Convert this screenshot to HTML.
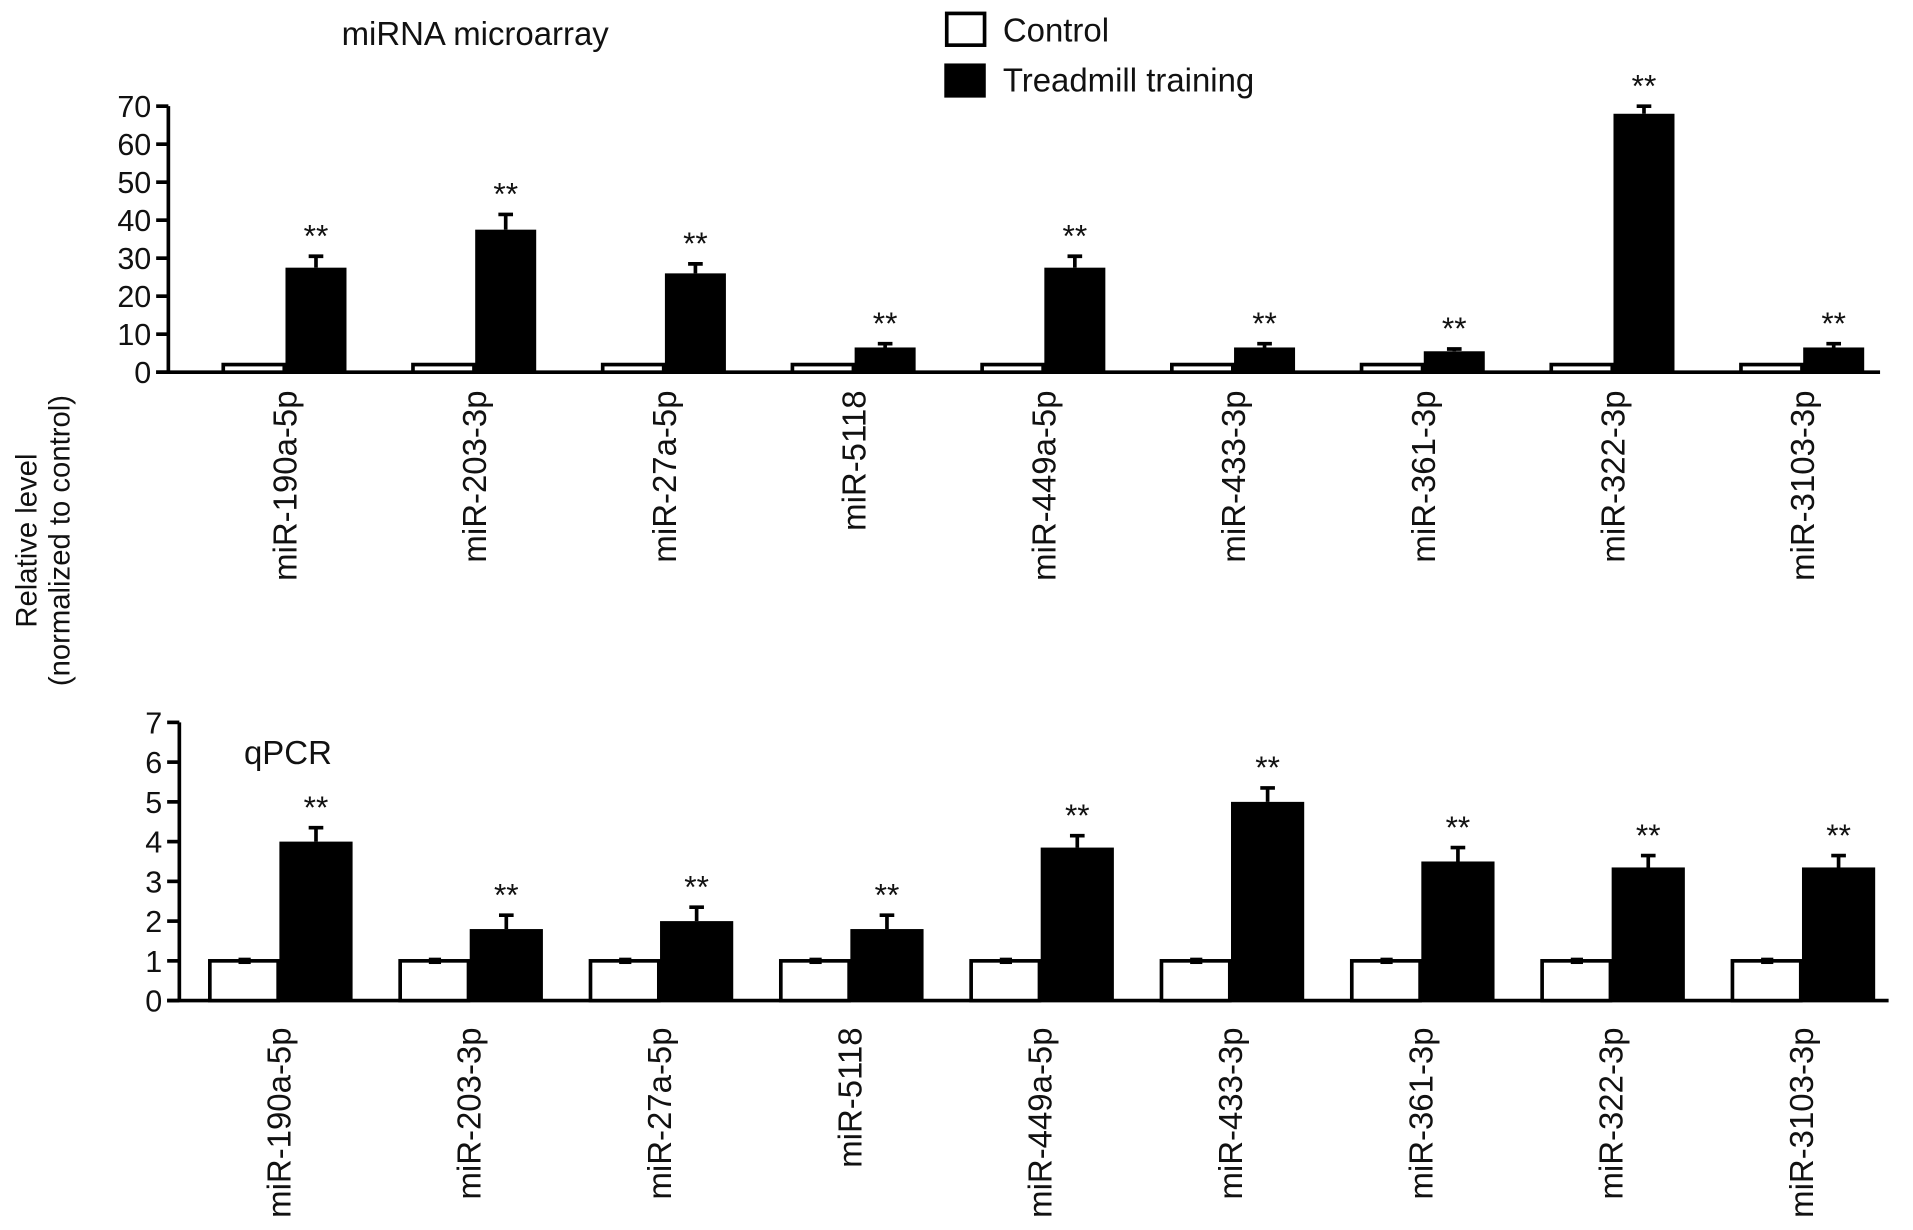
<!DOCTYPE html>
<html><head><meta charset="utf-8"><style>
html,body{margin:0;padding:0;background:#fff;}
svg{display:block;}
text{font-family:"Liberation Sans",sans-serif;fill:#111;}
</style></head><body>
<svg id="chart" width="1913" height="1230" viewBox="0 0 1568 1008" preserveAspectRatio="none">
<g id="legend">
<rect x="776" y="11" width="31" height="26" fill="#fff" stroke="#000" stroke-width="3"/>
<text x="822" y="34" font-size="27">Control</text>
<rect x="774" y="52" width="34" height="28" fill="#000"/>
<text x="822" y="75" font-size="27">Treadmill training</text>
</g>
<text x="280" y="37" font-size="27">miRNA microarray</text>
<text x="200" y="626" font-size="27">qPCR</text>
<text transform="translate(30,443) rotate(-90)" text-anchor="middle" font-size="24">Relative level</text>
<text transform="translate(57,443) rotate(-90)" text-anchor="middle" font-size="24">(normalized to control)</text>
<g id="top"></g>
<g id="bot"></g>
</svg>
<script>
const categories = ["miR-190a-5p","miR-203-3p","miR-27a-5p","miR-5118","miR-449a-5p","miR-433-3p","miR-361-3p","miR-322-3p","miR-3103-3p"];
const topControl = [2,2,2,2,2,2,2,2,2];
const topTreadmill = [27.5,37.5,26,6.5,27.5,6.5,5.5,68,6.5];
const topTreadmillErr = [3,4,2.5,1,3,1,0.6,2,1];
const topTicks = [0,10,20,30,40,50,60,70];
const botControl = [1,1,1,1,1,1,1,1,1];
const botControlErr = [0.08,0.08,0.08,0.08,0.08,0.08,0.08,0.08,0.08];
const botTreadmill = [4.0,1.8,2.0,1.8,3.85,5.0,3.5,3.35,3.35];
const botTreadmillErr = [0.35,0.35,0.35,0.35,0.3,0.35,0.35,0.3,0.3];
const botTicks = [0,1,2,3,4,5,6,7];
const NS="http://www.w3.org/2000/svg";
function mk(parent,tag,attrs){const e=document.createElementNS(NS,tag);for(const k in attrs)e.setAttribute(k,attrs[k]);parent.appendChild(e);return e;}
function draw(g,cfg){
  const y=v=>cfg.y0-(v-0)/(cfg.max)*(cfg.y0-cfg.yTop);
  const gx=i=>cfg.g0+i*cfg.step;
  let a=mk(g,'line',{x1:cfg.ax,y1:y(cfg.max),x2:cfg.ax,y2:cfg.y0,stroke:'#000','stroke-width':3});
  
  
  a=mk(g,'line',{x1:cfg.ax-10,y1:cfg.y0,x2:cfg.xEnd,y2:cfg.y0,stroke:'#000','stroke-width':3});
  
  
  cfg.ticks.forEach(t=>{
    const l=mk(g,'line',{x1:cfg.ax-10,y1:y(t),x2:cfg.ax,y2:y(t),stroke:'#000','stroke-width':3});
    
    
    const tx=mk(g,'text',{x:cfg.ax-14,y:y(t)+9,'text-anchor':'end','font-size':25});
    tx.textContent=t;
    
    
  });
  categories.forEach((c,i)=>{
    const cx=gx(i);
    const r1=mk(g,'rect',{x:cx-cfg.cw,y:y(cfg.ctrl[i]),width:cfg.cw-1,height:cfg.y0-y(cfg.ctrl[i]),fill:'#fff',stroke:'#000','stroke-width':3});
    
    
    if(cfg.ctrlErr){const ex=cx-cfg.cw/2;const e=mk(g,'rect',{x:ex-5,y:y(cfg.ctrl[i]+cfg.ctrlErr[i]),width:10,height:y(cfg.ctrl[i]-cfg.ctrlErr[i])-y(cfg.ctrl[i]+cfg.ctrlErr[i]),fill:'#000'});
      
      }
    const bx=cx+cfg.tw/2;
    const top=cfg.tr[i]+cfg.err[i];
    const el=mk(g,'path',{d:`M${bx} ${y(cfg.tr[i])}V${y(top)}M${bx-6} ${y(top)}H${bx+6}`,stroke:'#000','stroke-width':3,fill:'none'});
    
    
    const r2=mk(g,'rect',{x:cx,y:y(cfg.tr[i]),width:cfg.tw,height:cfg.y0-y(cfg.tr[i]),fill:'#000'});
    
    
    const st=mk(g,'text',{x:bx,y:y(top)-8,'text-anchor':'middle','font-size':26});
    st.textContent='**';
    
    
    const lb=mk(g,'text',{transform:`translate(${cx+9},${cfg.labelY}) rotate(-90)`,'text-anchor':'end','font-size':27});
    lb.textContent=c;
    
    
  });
}
draw(document.getElementById('top'),{ax:138,y0:305,yTop:87,max:70,ticks:topTicks,g0:234,step:155.5,cw:51,tw:50,xEnd:1541,ctrl:topControl,tr:topTreadmill,err:topTreadmillErr,labelY:320});
draw(document.getElementById('bot'),{ax:147,y0:820,yTop:592,max:7,ticks:botTicks,g0:229,step:156,cw:57,tw:60,xEnd:1548,ctrl:botControl,ctrlErr:botControlErr,tr:botTreadmill,err:botTreadmillErr,labelY:842});
</script>
</body></html>
